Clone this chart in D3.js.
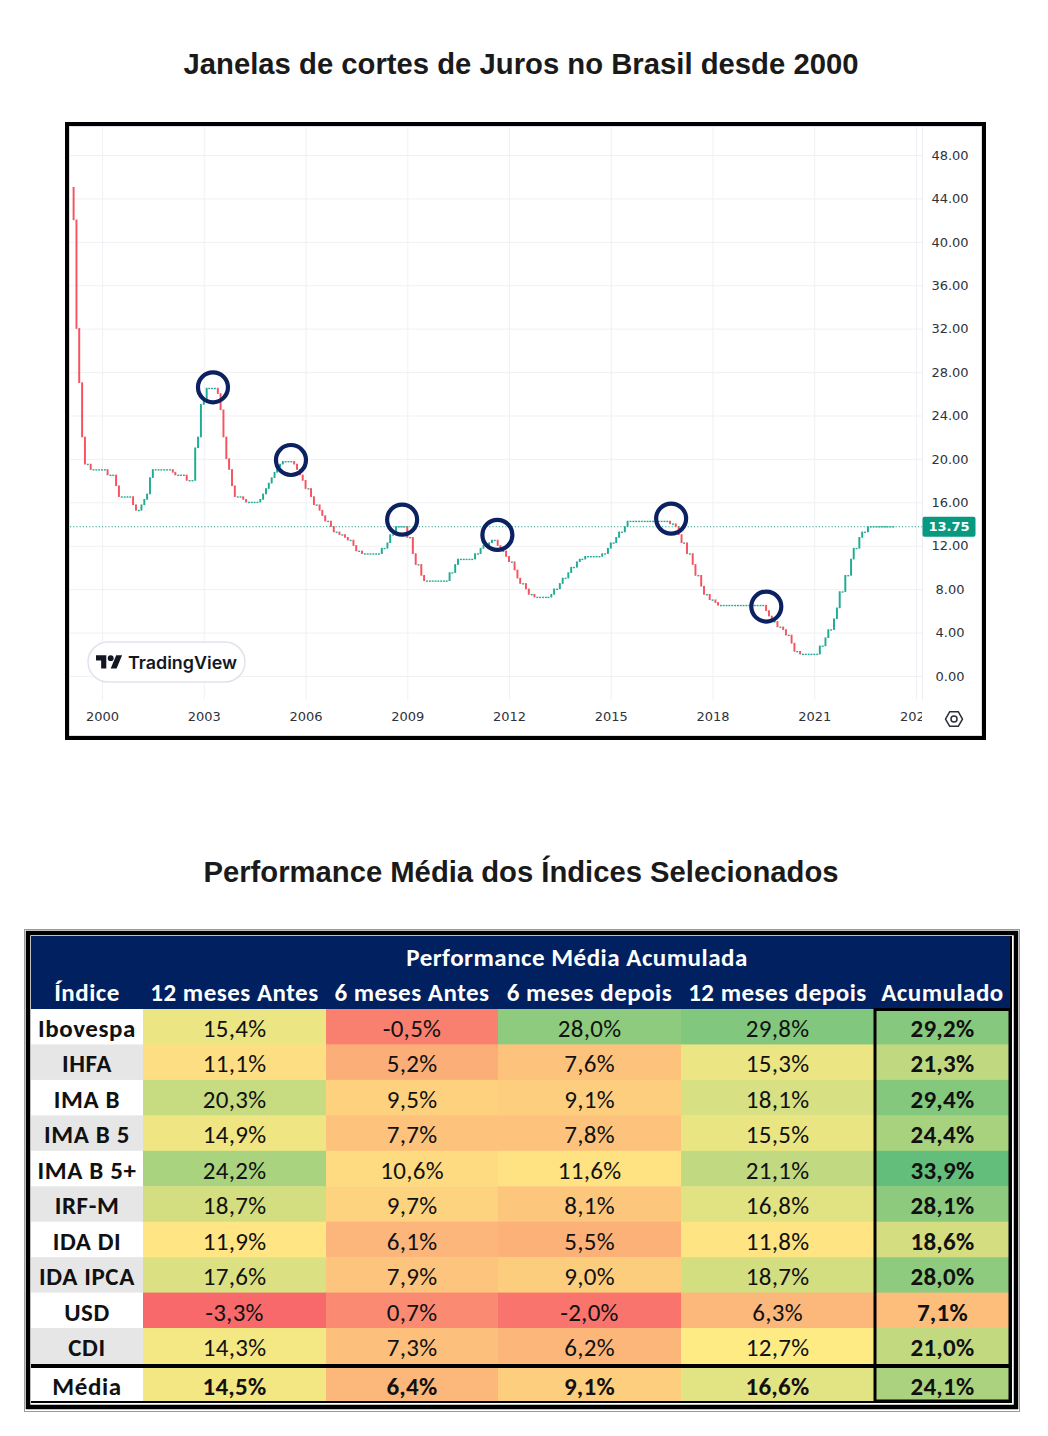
<!DOCTYPE html>
<html><head><meta charset="utf-8">
<script src="https://cdn.jsdelivr.net/npm/d3@7"></script>
<style>body{margin:0;background:#fff}</style>
</head><body><svg id="c" width="1048" height="1436" xmlns="http://www.w3.org/2000/svg"></svg>
<script>
// ---------- DATA ----------
// Selic target changes (date of change, new rate %)
const rateDates = [
"1999-03-05","1999-03-25","1999-04-05","1999-04-15","1999-04-29","1999-05-13","1999-05-20","1999-06-09","1999-06-24","1999-07-15","1999-07-29","1999-09-23",
"2000-03-23","2000-06-21","2000-07-20","2000-12-20",
"2001-01-18","2001-03-21","2001-04-19","2001-05-24","2001-06-21","2001-07-19",
"2002-02-21","2002-03-21","2002-07-18","2002-10-15","2002-11-21","2002-12-19",
"2003-01-23","2003-02-20","2003-06-19","2003-07-24","2003-08-21","2003-09-18","2003-10-23","2003-11-20","2003-12-18",
"2004-03-18","2004-04-15","2004-09-16","2004-10-21","2004-11-18","2004-12-16",
"2005-01-20","2005-02-17","2005-03-17","2005-04-21","2005-05-19","2005-09-15","2005-10-20","2005-11-24","2005-12-15",
"2006-01-19","2006-03-09","2006-04-20","2006-06-01","2006-07-20","2006-08-31","2006-10-19","2006-11-30",
"2007-01-25","2007-03-08","2007-04-19","2007-06-07","2007-07-19","2007-09-06",
"2008-04-17","2008-06-05","2008-07-24","2008-09-11",
"2009-01-22","2009-03-12","2009-04-30","2009-06-11","2009-07-23",
"2010-04-29","2010-06-10","2010-07-22",
"2011-01-20","2011-03-03","2011-04-21","2011-06-09","2011-07-21","2011-09-01","2011-10-20","2011-12-01",
"2012-01-19","2012-03-08","2012-04-19","2012-05-31","2012-07-12","2012-08-30","2012-10-11",
"2013-04-18","2013-05-30","2013-07-11","2013-08-29","2013-10-10","2013-11-28",
"2014-01-16","2014-02-27","2014-04-03","2014-10-30","2014-12-04",
"2015-01-22","2015-03-05","2015-04-30","2015-06-04","2015-07-30",
"2016-10-20","2016-12-01",
"2017-01-12","2017-02-23","2017-04-13","2017-06-01","2017-07-27","2017-09-07","2017-10-26","2017-12-07",
"2018-02-08","2018-03-22",
"2019-08-01","2019-09-19","2019-10-31","2019-12-12",
"2020-02-06","2020-03-19","2020-05-07","2020-06-18","2020-08-06",
"2021-03-18","2021-05-06","2021-06-17","2021-08-05","2021-09-23","2021-10-28","2021-12-09",
"2022-02-03","2022-03-17","2022-05-05","2022-06-16","2022-08-04"
];
const rateValues = [
45,42,39.5,34,32,29.5,27,23.5,22,21,19.5,19,
18.5,17.5,16.5,15.75,
15.25,15.75,16.25,16.75,18.25,19,
18.75,18.5,18,21,22,25,
25.5,26.5,26,24.5,22,20,19,17.5,16.5,
16.25,16,16.25,16.75,17.25,17.75,
18.25,18.75,19.25,19.5,19.75,19.5,19,18.5,18,
17.25,16.5,15.75,15.25,14.75,14.25,13.75,13.25,
13,12.75,12.5,12,11.5,11.25,
11.75,12.25,13,13.75,
12.75,11.25,10.25,9.25,8.75,
9.5,10.25,10.75,
11.25,11.75,12,12.25,12.5,12,11.5,11,
10.5,9.75,9,8.5,8,7.5,7.25,
7.5,8,8.5,9,9.5,10,
10.5,10.75,11,11.25,11.75,
12.25,12.75,13.25,13.75,14.25,
14,13.75,
13,12.25,11.25,10.25,9.25,8.25,7.5,7,
6.75,6.5,
6,5.5,5,4.5,
4.25,3.75,3,2.25,2,
2.75,3.5,4.25,5.25,6.25,7.75,9.25,
10.75,11.75,12.75,13.25,13.75
];
const firstMonth = "1999-03-01";
const lastMonth = "2023-05-01";
const lastPrice = 13.75;
const yTickValues = [0,4,8,12,16,20,24,28,32,36,40,44,48];
const xTickYears = [2000,2003,2006,2009,2012,2015,2018,2021,2024];
// highlighted rate-cut windows (start of cut cycle, level)
const cutDates = ["2003-04-10","2005-07-28","2008-11-06","2011-08-29","2016-10-12","2019-08-03"];
const cutLevels = [26.6,19.9,14.4,13.0,14.5,6.4];

// table
const indices = ["Ibovespa","IHFA","IMA B","IMA B 5","IMA B 5+","IRF-M","IDA DI","IDA IPCA","USD","CDI","Média"];
const colHeaders = ["12 meses Antes","6 meses Antes","6 meses depois","12 meses depois","Acumulado"];
const groupHeader = "Performance Média Acumulada";
const ant12 = [15.4,11.1,20.3,14.9,24.2,18.7,11.9,17.6,-3.3,14.3,14.5];
const ant6  = [-0.5,5.2,9.5,7.7,10.6,9.7,6.1,7.9,0.7,7.3,6.4];
const dep6  = [28.0,7.6,9.1,7.8,11.6,8.1,5.5,9.0,-2.0,6.2,9.1];
const dep12 = [29.8,15.3,18.1,15.5,21.1,16.8,11.8,18.7,6.3,12.7,16.6];
const acum  = [29.2,21.3,29.4,24.4,33.9,28.1,18.6,28.0,7.1,21.0,24.1];

const title1 = "Janelas de cortes de Juros no Brasil desde 2000";
const title2 = "Performance Média dos Índices Selecionados";

// ---------- DRAW ----------
const svg = d3.select("#c");
svg.append("rect").attr("width",1048).attr("height",1436).attr("fill","#fff");

const titleFont = "'Liberation Sans', Arial, Helvetica, sans-serif";
svg.append("text").attr("x",521).attr("y",74).attr("text-anchor","middle")
  .attr("font-family",titleFont).attr("font-weight","bold").attr("font-size",29)
  .attr("fill","#1a1a1a").attr("textLength",675).attr("lengthAdjust","spacingAndGlyphs").text(title1);
svg.append("text").attr("x",521).attr("y",882).attr("text-anchor","middle")
  .attr("font-family",titleFont).attr("font-weight","bold").attr("font-size",29)
  .attr("fill","#1a1a1a").attr("textLength",635).attr("lengthAdjust","spacingAndGlyphs").text(title2);

// chart frame
svg.append("rect").attr("x",67).attr("y",124).attr("width",917).attr("height",614)
  .attr("fill","#fff").attr("stroke","#000").attr("stroke-width",4);
svg.append("rect").attr("x",69.5).attr("y",126.5).attr("width",912).attr("height",609)
  .attr("fill","none").attr("stroke","#dcdfe6").attr("stroke-width",1);

const plot = {l:70, r:922, t:127, b:700};
const parse = d3.timeParse("%Y-%m-%d");
const x = d3.scaleTime().domain([new Date(2000,0,1), new Date(2024,0,1)]).range([102, 916]);
const y = d3.scaleLinear().domain([0,48]).range([676,155]);

const defs = svg.append("defs");
defs.append("clipPath").attr("id","plotclip").append("rect")
  .attr("x",plot.l).attr("y",plot.t).attr("width",plot.r-plot.l).attr("height",plot.b-plot.t);
defs.append("clipPath").attr("id","timeclip").append("rect")
  .attr("x",plot.l).attr("y",plot.b).attr("width",plot.r-plot.l).attr("height",35);

// grid
const gridColor = "#eff1f4";
const gy = svg.append("g").attr("transform",`translate(${plot.l},0)`)
  .call(d3.axisRight(y).tickValues(yTickValues).tickSize(plot.r-plot.l).tickFormat(""));
gy.select(".domain").remove();
gy.selectAll("line").attr("stroke",gridColor).attr("stroke-width",1);
const gxWrap = svg.append("g").attr("clip-path","url(#plotclip)");
const gx = gxWrap.append("g").attr("transform",`translate(0,${plot.t})`)
  .call(d3.axisBottom(x).tickValues(xTickYears.map(yr=>new Date(yr,0,1))).tickSize(plot.b-plot.t).tickFormat(""));
gx.select(".domain").remove();
gx.selectAll("line").attr("stroke",gridColor).attr("stroke-width",1);
svg.append("line").attr("x1",plot.r+0.5).attr("x2",plot.r+0.5).attr("y1",plot.t).attr("y2",plot.b)
  .attr("stroke","#eceef2");

// candles (monthly)
const changes = rateDates.map((d,i)=>({date:parse(d), v:rateValues[i]}));
const months = d3.timeMonth.range(parse(firstMonth), d3.timeMonth.offset(parse(lastMonth),1));
let prev = changes[0].v, ci = 0;
const candles = months.map(m=>{
  const next = d3.timeMonth.offset(m,1);
  const vals = [prev];
  while (ci < changes.length && changes[ci].date < next) { vals.push(changes[ci].v); ci++; }
  const o = prev, c = vals[vals.length-1];
  prev = c;
  return {date:m, o, c, h:d3.max(vals), l:d3.min(vals)};
});
const up = "#22ab94", down = "#f7525f";
const cg = svg.append("g").attr("clip-path","url(#plotclip)");
const bw = 1.9;
cg.selectAll("line.wick").data(candles).join("line").attr("class","wick")
  .attr("x1",d=>x(d.date)).attr("x2",d=>x(d.date))
  .attr("y1",d=>y(d.h)).attr("y2",d=>y(d.l))
  .attr("stroke",d=>d.c>=d.o?up:down).attr("stroke-width",1);
cg.selectAll("rect.body").data(candles).join("rect").attr("class","body")
  .attr("x",d=>x(d.date)-bw/2).attr("width",bw)
  .attr("y",d=>Math.min(y(d.o),y(d.c))-0.6)
  .attr("height",d=>Math.max(1.4, Math.abs(y(d.o)-y(d.c))+0.6))
  .attr("fill",d=>d.c>=d.o?up:down);

// last price line
svg.append("line").attr("x1",plot.l).attr("x2",plot.r).attr("y1",y(lastPrice)).attr("y2",y(lastPrice))
  .attr("stroke","#22ab94").attr("stroke-width",1.2).attr("stroke-dasharray","1.2,2");

// cut-window circles
svg.append("g").selectAll("circle").data(cutDates).join("circle")
  .attr("cx",(d)=>x(parse(d))).attr("cy",(d,i)=>y(cutLevels[i])).attr("r",15)
  .attr("fill","none").attr("stroke","#0b2161").attr("stroke-width",4.2);

// price axis
const axFont = "'DejaVu Sans', Verdana, sans-serif";
const axColor = "#2f323c";
const ay = svg.append("g").attr("transform",`translate(${plot.r+28},0)`)
  .call(d3.axisRight(y).tickValues(yTickValues).tickSize(0).tickPadding(0).tickFormat(d3.format(".2f")));
ay.select(".domain").remove();
ay.selectAll("text").attr("font-family",axFont).attr("font-size",13).attr("fill",axColor)
  .attr("text-anchor","middle").attr("x",0);

// last price label
svg.append("rect").attr("x",plot.r+0.5).attr("y",y(lastPrice)-10).attr("width",53).attr("height",20)
  .attr("rx",2).attr("fill","#089981");
svg.append("text").attr("x",plot.r+27).attr("y",y(lastPrice)).attr("dy","0.36em")
  .attr("text-anchor","middle").attr("font-family",axFont).attr("font-size",13)
  .attr("font-weight","bold").attr("fill","#fff").text(d3.format(".2f")(lastPrice));

// time axis
const axWrap = svg.append("g").attr("clip-path","url(#timeclip)");
const ax = axWrap.append("g").attr("transform",`translate(0,${plot.b})`)
  .call(d3.axisBottom(x).tickValues(xTickYears.map(yr=>new Date(yr,0,1))).tickSize(0).tickPadding(12).tickFormat(d3.timeFormat("%Y")));
ax.select(".domain").remove();
ax.selectAll("text").attr("font-family",axFont).attr("font-size",13).attr("fill",axColor);

// gear icon
const gc = [954,719], gr = 8.5;
const hex = d3.range(6).map(i=>[gc[0]+gr*Math.cos(Math.PI/3*i), gc[1]+gr*Math.sin(Math.PI/3*i)]);
svg.append("path").attr("d","M"+hex.map(p=>p.join(",")).join("L")+"Z")
  .attr("fill","none").attr("stroke","#2a2e39").attr("stroke-width",1.5).attr("stroke-linejoin","round");
svg.append("circle").attr("cx",gc[0]).attr("cy",gc[1]).attr("r",3).attr("fill","none")
  .attr("stroke","#2a2e39").attr("stroke-width",1.5);

// TradingView badge
svg.append("rect").attr("x",88).attr("y",642).attr("width",157).attr("height",40).attr("rx",20)
  .attr("fill","#fff").attr("stroke","#e0e3eb").attr("stroke-width",1.5);
const logo = svg.append("g").attr("transform","translate(96,652.3) scale(0.735)").attr("fill","#131722");
logo.append("path").attr("d","M14 22H7V11H0V4h14v18zM28 22h-8l7.5-18h8L28 22z");
logo.append("circle").attr("cx",20).attr("cy",8).attr("r",4);
svg.append("text").attr("x",128).attr("y",669).attr("font-family","Inter, 'Open Sans', sans-serif")
  .attr("font-size",17).attr("font-weight",600).attr("fill","#131722")
  .attr("textLength",109).attr("lengthAdjust","spacingAndGlyphs").text("TradingView");

// ---------- TABLE ----------
const tFont = "Carlito, Lato, 'Open Sans', sans-serif";
const fs = 25;
const colX = [31,143,326,498,681,874,1011];
const headTop = 936, headBot = 1009, rowH = 35.45, mediaTop = 1367, mediaBot = 1402;
const series = [ant12, ant6, dep6, dep12, acum];
const allVals = series.flat();
const color = d3.scaleLinear()
  .domain([d3.min(allVals), d3.median(allVals), d3.max(allVals)])
  .range(["#f8696b","#ffeb84","#63be7b"]);
const fmt = v => d3.format(".1f")(v).replace("\u2212","-").replace(".", ",") + "%";

const tg = svg.append("g");
// outer shadow line and frame
tg.append("rect").attr("x",24.5).attr("y",929.5).attr("width",995).attr("height",482)
  .attr("fill","#fff").attr("stroke","#9a9a9a").attr("stroke-width",1);
tg.append("rect").attr("x",colX[0]).attr("y",headTop).attr("width",colX[6]-colX[0]).attr("height",headBot-headTop)
  .attr("fill","#002060");

const rowTop = i => i < 10 ? headBot + i*rowH : mediaTop;
const rowHt = i => i < 10 ? rowH : mediaBot - mediaTop;

indices.forEach((name,i)=>{
  tg.append("rect").attr("x",colX[0]).attr("y",rowTop(i)).attr("width",colX[1]-colX[0]).attr("height",rowHt(i)+0.5)
    .attr("fill", (i%2===1 && i<10) ? "#e7e6e6" : "#fff");
  series.forEach((s,c)=>{
    tg.append("rect").attr("x",colX[c+1]).attr("y",rowTop(i)).attr("width",colX[c+2]-colX[c+1]+0.5).attr("height",rowHt(i)+0.5)
      .attr("fill",color(s[i]));
  });
});
// cells text
indices.forEach((name,i)=>{
  const cy = rowTop(i) + rowHt(i)/2 + 1.5;
  tg.append("text").attr("x",(colX[0]+colX[1])/2).attr("y",cy).attr("dy","0.35em")
    .attr("text-anchor","middle").attr("font-family",tFont).attr("font-weight","bold")
    .attr("font-size",fs).attr("letter-spacing",0.6).attr("fill","#111").text(name);
  series.forEach((s,c)=>{
    const bold = (c===4 || i===10);
    tg.append("text").attr("x",(colX[c+1]+colX[c+2])/2).attr("y",cy).attr("dy","0.35em")
      .attr("text-anchor","middle").attr("font-family",tFont).attr("font-weight",bold?"bold":"normal")
      .attr("font-size",fs).attr("letter-spacing",0.3).attr("fill","#111").text(fmt(s[i]));
  });
});
// header text
tg.append("text").attr("x",(colX[1]+colX[6])/2).attr("y",957).attr("dy","0.35em").attr("text-anchor","middle")
  .attr("font-family",tFont).attr("font-weight","bold").attr("font-size",fs).attr("fill","#fff")
  .attr("letter-spacing",0.5).text(groupHeader);
tg.append("text").attr("x",(colX[0]+colX[1])/2).attr("y",992).attr("dy","0.35em").attr("text-anchor","middle")
  .attr("font-family",tFont).attr("font-weight","bold").attr("font-size",fs).attr("fill","#fff")
  .attr("letter-spacing",0.5).text("Índice");
colHeaders.forEach((h,c)=>{
  tg.append("text").attr("x",(colX[c+1]+colX[c+2])/2).attr("y",992).attr("dy","0.35em").attr("text-anchor","middle")
    .attr("font-family",tFont).attr("font-weight","bold").attr("font-size",fs).attr("fill","#fff")
    .attr("letter-spacing",0.5).text(h);
});
// borders
tg.append("rect").attr("x",colX[5]+1).attr("y",headBot+0.5).attr("width",colX[6]-colX[5]-2).attr("height",mediaTop-headBot-2)
  .attr("fill","none").attr("stroke","#000").attr("stroke-width",3);
tg.append("line").attr("x1",colX[0]).attr("x2",colX[6]).attr("y1",mediaTop-1).attr("y2",mediaTop-1)
  .attr("stroke","#000").attr("stroke-width",4);
tg.append("rect").attr("x",colX[5]+1).attr("y",mediaTop-1).attr("width",colX[6]-colX[5]-2).attr("height",mediaBot-mediaTop)
  .attr("fill","none").attr("stroke","#000").attr("stroke-width",3);
tg.append("line").attr("x1",colX[0]).attr("x2",colX[6]).attr("y1",mediaBot).attr("y2",mediaBot)
  .attr("stroke","#000").attr("stroke-width",2);
tg.append("line").attr("x1",colX[6]).attr("x2",colX[6]).attr("y1",headTop).attr("y2",mediaBot+1)
  .attr("stroke","#000").attr("stroke-width",2);
tg.append("rect").attr("x",28).attr("y",933).attr("width",988).attr("height",474)
  .attr("fill","none").attr("stroke","#000").attr("stroke-width",4.5);
</script></body></html>
